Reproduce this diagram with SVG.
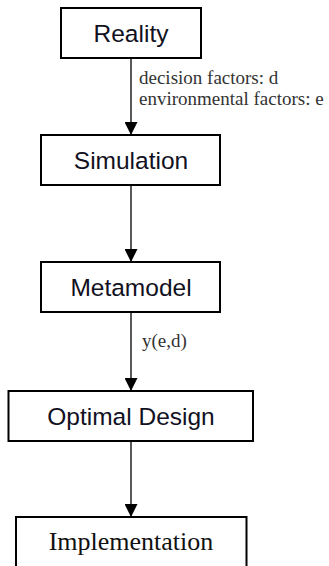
<svg xmlns="http://www.w3.org/2000/svg" width="329" height="566" viewBox="0 0 329 566">
  <style>
    .box { fill: #ffffff; stroke: #000000; stroke-width: 2; }
    .sans { font-family: "Liberation Sans", Arial, sans-serif; font-size: 24.5px; fill: #111122; text-anchor: middle; }
    .serifbig { font-family: "Liberation Serif", "Times New Roman", serif; font-size: 26px; fill: #111111; text-anchor: middle; }
    .lbl { font-family: "Liberation Serif", "Times New Roman", serif; font-size: 19px; fill: #333333; }
    .conn { stroke: #222222; stroke-width: 1.5; fill: none; marker-end: url(#arrow); }
  </style>
  <defs>
    <marker id="arrow" markerUnits="userSpaceOnUse" markerWidth="13" markerHeight="13" viewBox="0 0 13 13" refX="13" refY="6.5" orient="auto">
      <path d="M0,0 L13,6.5 L0,13 Z" fill="#000000"/>
    </marker>
  </defs>
  <rect width="329" height="566" fill="#ffffff"/>
  <g id="connectors">
    <line class="conn" x1="131" y1="58" x2="131" y2="135"/>
    <line class="conn" x1="131" y1="185" x2="131" y2="262"/>
    <line class="conn" x1="131" y1="312" x2="131" y2="391"/>
    <line class="conn" x1="131" y1="441" x2="131" y2="517"/>
    <text class="lbl" x="139" y="83.5">decision factors: d</text>
    <text class="lbl" x="139" y="104.5">environmental factors: e</text>
    <text class="lbl" x="142" y="347">y(e,d)</text>
  </g>
  <g id="reality">
    <rect class="box" x="61" y="8" width="140" height="50"/>
    <text class="sans" x="131" y="42">Reality</text>
  </g>
  <g id="simulation">
    <rect class="box" x="41" y="135" width="179" height="50"/>
    <text class="sans" x="131" y="169">Simulation</text>
  </g>
  <g id="metamodel">
    <rect class="box" x="41" y="262" width="179" height="50"/>
    <text class="sans" x="131" y="296">Metamodel</text>
  </g>
  <g id="optimal-design">
    <rect class="box" x="8.5" y="391" width="244.5" height="50"/>
    <text class="sans" x="131" y="425">Optimal Design</text>
  </g>
  <g id="implementation">
    <rect class="box" x="16" y="517" width="230.5" height="60"/>
    <text class="serifbig" x="131" y="550">Implementation</text>
  </g>
</svg>
